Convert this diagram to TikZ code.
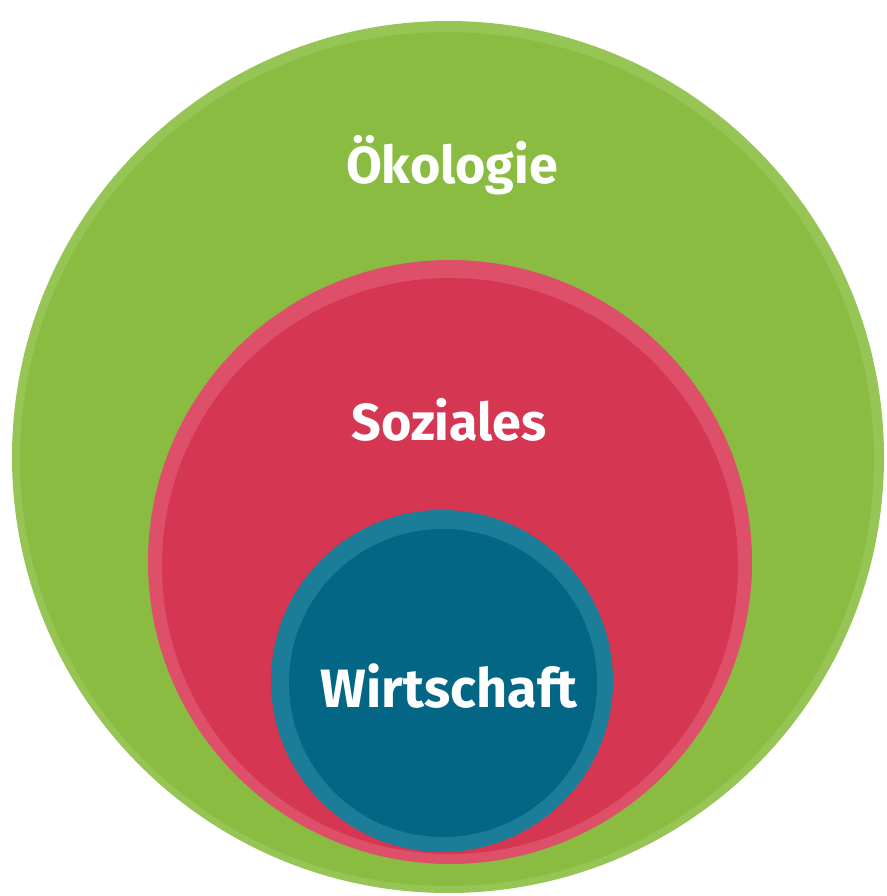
\documentclass[tikz,border=0pt]{standalone}
\usepackage{fontspec}
\setmainfont{Fira Sans}
\usetikzlibrary{positioning}

\definecolor{gruen}{HTML}{8ABC41}
\definecolor{gruenrand}{HTML}{96C556}
\definecolor{rot}{HTML}{D53652}
\definecolor{rotrand}{HTML}{DE506A}
\definecolor{blau}{HTML}{036684}
\definecolor{blaurand}{HTML}{1B7D98}

\begin{document}
\begin{tikzpicture}[x=1pt,y=-1pt,
    kreis/.style={circle, inner sep=0pt, outer sep=0pt},
    schrift/.style={text=white, anchor=base,
        font=\bfseries\fontsize{52}{56}\selectfont},
    every node/.style={inner sep=0pt}]
    \useasboundingbox (0,0) rectangle (886,896);

    % Oekologie
    \node[kreis, fill=gruenrand, minimum size=872pt] (oeko) at (448,457) {};
    \node[kreis, fill=gruen, minimum size=854pt] (oekokern) at (447,459) {};
    % Soziales
    \node[kreis, fill=rotrand, minimum size=604pt] (sozial) at (450,562) {};
    \node[kreis, fill=rot, minimum size=576pt] (sozialkern) at (450,566) {};
    % Wirtschaft
    \node[kreis, fill=blaurand, minimum size=342pt] (wirt) at (442,681) {};
    \node[kreis, fill=blau, minimum size=308pt] (wirtkern) at (443,683) {};

    \node[schrift] (toeko) at (452,184) {Ökologie};
    \node[schrift] (tsozial) at (449,440) {Soziales};
    \node[schrift, font=\bfseries\fontsize{54}{58}\selectfont] (twirt) at (449,707) {Wirtschaft};

\end{tikzpicture}
\end{document}
